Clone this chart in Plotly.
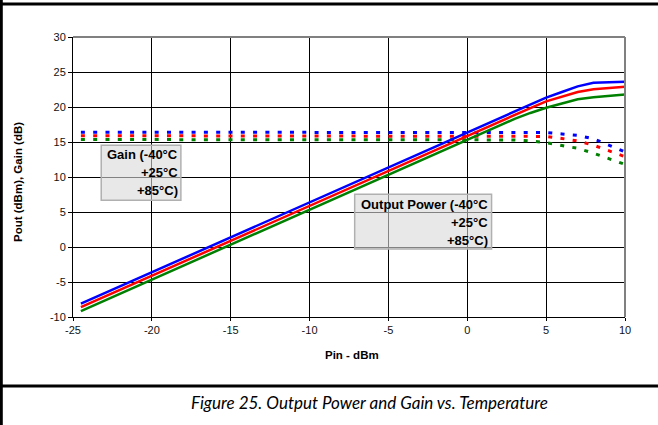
import plotly.graph_objects as go

pin_dbm = [-24.5, -24, -23, -22, -21, -20, -19, -18, -17, -16, -15, -14, -13, -12, -11, -10,
           -9, -8, -7, -6, -5, -4, -3, -2, -1, 0, 1, 2, 3, 4, 5, 6, 7, 8, 9, 10]

pout_m40 = [-8.1, -7.6, -6.6, -5.6, -4.6, -3.6, -2.6, -1.6, -0.6, 0.4, 1.4, 2.4, 3.4, 4.4, 5.4, 6.4,
            7.4, 8.4, 9.4, 10.4, 11.4, 12.4, 13.4, 14.4, 15.4, 16.4, 17.4, 18.4, 19.4, 20.4, 21.35,
            22.15, 22.95, 23.45, 23.5, 23.6]
pout_25 = [-8.6, -8.1, -7.1, -6.1, -5.1, -4.1, -3.1, -2.1, -1.1, -0.1, 0.9, 1.9, 2.9, 3.9, 4.9, 5.9,
           6.9, 7.9, 8.9, 9.9, 10.9, 11.9, 12.9, 13.9, 14.9, 15.9, 16.9, 17.9, 18.9, 19.85, 20.8,
           21.5, 22.15, 22.55, 22.75, 22.9]
pout_85 = [-9.15, -8.65, -7.65, -6.65, -5.65, -4.65, -3.65, -2.65, -1.65, -0.65, 0.35, 1.35, 2.35,
           3.35, 4.35, 5.35, 6.35, 7.35, 8.35, 9.35, 10.35, 11.35, 12.35, 13.35, 14.35, 15.35, 16.35,
           17.35, 18.3, 19.15, 19.9, 20.5, 21.1, 21.4, 21.65, 21.8]

gain_m40 = [16.4, 16.4, 16.4, 16.4, 16.4, 16.4, 16.4, 16.4, 16.4, 16.4, 16.4, 16.4, 16.4, 16.4, 16.4,
            16.4, 16.4, 16.4, 16.4, 16.4, 16.4, 16.4, 16.4, 16.4, 16.4, 16.4, 16.4, 16.4, 16.4, 16.4,
            16.35, 16.15, 15.95, 15.45, 14.5, 13.6]
gain_25 = [15.9, 15.9, 15.9, 15.9, 15.9, 15.9, 15.9, 15.9, 15.9, 15.9, 15.9, 15.9, 15.9, 15.9, 15.9,
           15.9, 15.9, 15.9, 15.9, 15.9, 15.9, 15.9, 15.9, 15.9, 15.9, 15.9, 15.9, 15.9, 15.9, 15.85,
           15.8, 15.5, 15.15, 14.55, 13.75, 12.9]
gain_85 = [15.35, 15.35, 15.35, 15.35, 15.35, 15.35, 15.35, 15.35, 15.35, 15.35, 15.35, 15.35, 15.35,
           15.35, 15.35, 15.35, 15.35, 15.35, 15.35, 15.35, 15.35, 15.35, 15.35, 15.35, 15.35, 15.35,
           15.35, 15.35, 15.3, 15.15, 14.9, 14.5, 14.1, 13.4, 12.65, 11.8]

x_ticks = [-25, -20, -15, -10, -5, 0, 5, 10]
y_ticks = [-10, -5, 0, 5, 10, 15, 20, 25, 30]

colors = {"m40": "#0000FF", "25": "#FF0000", "85": "#008000"}

fig = go.Figure()
for g, c in [(gain_85, colors["85"]), (gain_25, colors["25"]), (gain_m40, colors["m40"])]:
    fig.add_trace(go.Scatter(x=pin_dbm, y=g, mode="lines",
                             line=dict(color=c, width=3, dash="4px,8.3px"),
                             showlegend=False, hoverinfo="skip"))
for p, c in [(pout_85, colors["85"]), (pout_25, colors["25"]), (pout_m40, colors["m40"])]:
    fig.add_trace(go.Scatter(x=pin_dbm, y=p, mode="lines",
                             line=dict(color=c, width=2.5),
                             showlegend=False, hoverinfo="skip"))

W, H = 658, 425
L, R, T, B = 73, 33, 37, 108
PW, PH = W - L - R, H - T - B


def px(xpix):
    return (xpix - L) / PW


def py(ypix):
    return (H - B - ypix) / PH


tick_font = dict(family="Liberation Sans, Arial, sans-serif", size=11, color="#111111")
fig.update_xaxes(range=[-25, 10], tickvals=x_ticks, ticktext=[str(v) for v in x_ticks],
                 showgrid=True, gridcolor="#000000", gridwidth=1,
                 showline=True, linecolor="#000000", linewidth=1,
                 ticks="outside", ticklen=3, tickcolor="#000000",
                 tickfont=tick_font, zeroline=False, fixedrange=True)
fig.update_yaxes(range=[-10, 30], tickvals=y_ticks, ticktext=[str(v) for v in y_ticks],
                 showgrid=True, gridcolor="#000000", gridwidth=1,
                 showline=True, linecolor="#000000", linewidth=1,
                 ticks="outside", ticklen=4, tickcolor="#000000",
                 tickfont=tick_font, zeroline=False, fixedrange=True)

shapes = []
shapes.append(dict(type="line", xref="paper", yref="paper", x0=0, x1=1, y0=1, y1=1,
                   line=dict(color="#808080", width=2)))
shapes.append(dict(type="line", xref="paper", yref="paper", x0=1, x1=1, y0=0, y1=1,
                   line=dict(color="#808080", width=2)))
shapes.append(dict(type="rect", xref="x", yref="y", x0=-23.21, x1=-18.16, y0=6.67, y1=14.53,
                   fillcolor="rgba(216,216,216,0.6)", line=dict(color="#b0b0b0", width=1.5),
                   layer="above"))
shapes.append(dict(type="rect", xref="x", yref="y", x0=-7.14, x1=1.54, y0=-0.29, y1=7.53,
                   fillcolor="rgba(216,216,216,0.6)", line=dict(color="#b0b0b0", width=1.5),
                   layer="above"))
shapes.append(dict(type="line", xref="paper", yref="paper", x0=px(0), x1=px(W), y0=py(4), y1=py(4),
                   line=dict(color="#000000", width=3)))
shapes.append(dict(type="line", xref="paper", yref="paper", x0=px(1.3), x1=px(1.3), y0=py(0), y1=py(H),
                   line=dict(color="#000000", width=3)))
shapes.append(dict(type="line", xref="paper", yref="paper", x0=px(0), x1=px(W), y0=py(386), y1=py(386),
                   line=dict(color="#000000", width=3)))

bold_font = dict(family="Liberation Sans, Arial, sans-serif", size=13, color="#000000")
annotations = []
for txt, yv in [("<b>Gain (-40°C</b>", 13.2), ("<b>+25°C</b>", 10.63), ("<b>+85°C)</b>", 8.1)]:
    annotations.append(dict(x=-18.31, y=yv, xref="x", yref="y", text=txt, showarrow=False,
                            xanchor="right", yanchor="middle", font=bold_font, borderpad=0))
for txt, yv in [("<b>Output Power (-40°C</b>", 6.14), ("<b>+25°C</b>", 3.49), ("<b>+85°C)</b>", 0.96)]:
    annotations.append(dict(x=1.38, y=yv, xref="x", yref="y", text=txt, showarrow=False,
                            xanchor="right", yanchor="middle", font=bold_font, borderpad=0))

title_font = dict(family="Liberation Sans, Arial, sans-serif", size=11.5, color="#000000")
annotations.append(dict(x=px(352), y=py(355), xref="paper", yref="paper", text="<b>Pin - dBm</b>",
                        showarrow=False, xanchor="center", yanchor="middle", font=title_font))
annotations.append(dict(x=px(18), y=py(182), xref="paper", yref="paper",
                        text="<b>Pout (dBm), Gain (dB)</b>", textangle=-90,
                        showarrow=False, xanchor="center", yanchor="middle", font=title_font))
annotations.append(dict(x=px(369), y=py(402), xref="paper", yref="paper",
                        text="<i>Figure 25. Output Power and Gain vs. Temperature</i>",
                        showarrow=False, xanchor="center", yanchor="middle",
                        font=dict(family="Lato, Noto Sans, sans-serif", size=17, color="#000000")))

fig.update_layout(width=W, height=H, margin=dict(l=L, r=R, t=T, b=B, pad=0),
                  paper_bgcolor="#ffffff", plot_bgcolor="#ffffff",
                  shapes=shapes, annotations=annotations, showlegend=False)

fig.write_html("out.html", config={"displayModeBar": False},
               post_script="document.body.style.margin='0';document.body.style.overflow='hidden';")
